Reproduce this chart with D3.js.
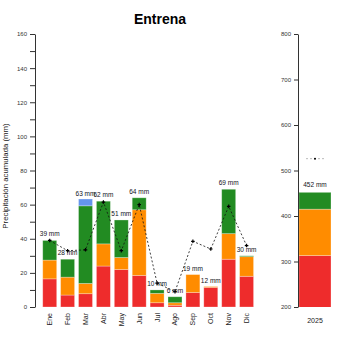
<!DOCTYPE html>
<html>
<head>
<meta charset="utf-8">
<script src="https://cdn.jsdelivr.net/npm/d3@7"></script>
<style>
  body { margin: 0; background: #fff; }
  svg { font-family: "Liberation Sans", Arial, sans-serif; }
</style>
</head>
<body>
<svg width="350" height="350"></svg>
<script>
// monthly data, stacked from bottom to top
const months = ['Ene','Feb','Mar','Abr','May','Jun','Jul','Ago','Sep','Oct','Nov','Dic'];
const red    = [16.5, 7, 7.8, 24, 22, 18.5, 2.5, 1, 8.5, 11.5, 28, 18];
const orange = [11, 10.5, 6, 13, 7, 38.5, 5.5, 1.5, 10.5, 0.5, 15, 11.5];
const green  = [11.5, 10.5, 45.5, 25, 22, 7, 2, 3.5, 0, 0, 26, 0.5];
const blue   = [0, 0, 4, 0, 0, 0, 0, 0, 0, 0, 0, 0];
const totals = [39, 28, 63, 62, 51, 64, 10, 6, 19, 12, 69, 30];
// climatological mean (dashed line)
const meanMonth = [39, 33, 33.5, 61.5, 33, 60, 14, 9, 38.5, 34, 59, 36];

// annual panel
const years = ['2025'];
const yearRed = [313], yearOrange = [102], yearGreen = [37];
const yearTotal = [452];
const yearMean = [526];

const colors = ['#ee2c2c', '#ff8c00', '#228b22', '#6495ed'];

const svg = d3.select('svg');

// title
svg.append('text')
  .attr('x', 160).attr('y', 24)
  .attr('text-anchor', 'middle')
  .style('font-size', '14px').style('font-weight', 'bold')
  .text('Entrena');

// ---------- monthly panel ----------
const x = d3.scaleBand().domain(months).range([38.8, 257.5]).paddingInner(0.22).paddingOuter(0.22);
const y = d3.scaleLinear().domain([0, 160]).range([307, 34]);

const rows = months.map((m, i) => ({ m: m, r: red[i], o: orange[i], g: green[i], b: blue[i] }));
const stack = d3.stack().keys(['r', 'o', 'g', 'b']);
const series = stack(rows);

const gm = svg.append('g');
gm.selectAll('g.layer')
  .data(series)
  .enter().append('g')
  .attr('class', 'layer')
  .attr('fill', (d, i) => colors[i])
  .selectAll('rect')
  .data(d => d)
  .enter().append('rect')
  .attr('x', d => x(d.data.m))
  .attr('width', x.bandwidth())
  .attr('y', d => y(d[1]))
  .attr('height', d => y(d[0]) - y(d[1]))
  .attr('stroke', 'rgba(255,255,255,0.35)')
  .attr('stroke-width', 0.8);

// dashed mean line
const line = d3.line()
  .x((d, i) => x(months[i]) + x.bandwidth() / 2)
  .y(d => y(d));
gm.append('path')
  .datum(meanMonth)
  .attr('d', line)
  .attr('fill', 'none')
  .attr('stroke', '#111')
  .attr('stroke-width', 0.8)
  .attr('stroke-dasharray', '2,2');
gm.selectAll('path.pt')
  .data(meanMonth)
  .enter().append('path')
  .attr('class', 'pt')
  .attr('d', d3.symbol().type(d3.symbolCross).size(7))
  .attr('transform', (d, i) => `translate(${x(months[i]) + x.bandwidth() / 2},${y(d)})`)
  .attr('fill', '#000');

// total labels
gm.selectAll('text.tot')
  .data(totals)
  .enter().append('text')
  .attr('class', 'tot')
  .attr('x', (d, i) => x(months[i]) + x.bandwidth() / 2)
  .attr('y', d => y(d) - 4)
  .attr('text-anchor', 'middle')
  .style('font-size', '6.5px')
  .style('fill', '#111122')
  .text(d => d + ' mm');

// left axis
const yAxis = d3.axisLeft(y)
  .tickValues(d3.range(0, 161, 10))
  .tickSize(5)
  .tickSizeOuter(0)
  .tickFormat(d => d % 20 === 0 ? d : '');
const ga = svg.append('g')
  .attr('transform', 'translate(35,0)')
  .call(yAxis);
ga.selectAll('text').style('font-size', '6px').style('fill', '#333');
ga.selectAll('line, path').attr('stroke', '#333');

// month labels
svg.selectAll('text.month')
  .data(months)
  .enter().append('text')
  .attr('class', 'month')
  .attr('transform', d => `translate(${x(d) + x.bandwidth() / 2 + 2.5},313) rotate(-90)`)
  .attr('text-anchor', 'end')
  .style('font-size', '7px')
  .style('fill', '#222')
  .text(d => d);

// y title
svg.append('text')
  .attr('transform', 'translate(8,176) rotate(-90)')
  .attr('text-anchor', 'middle')
  .style('font-size', '7.8px')
  .style('fill', '#222')
  .text('Precipitación acumulada (mm)');

// ---------- annual panel ----------
const x2 = d3.scaleBand().domain(years).range([299, 331]).padding(0);
const y2 = d3.scaleLinear().domain([200, 800]).range([307, 34]);

svg.append('clipPath').attr('id', 'clipY')
  .append('rect').attr('x', 290).attr('y', 34).attr('width', 60).attr('height', 273);

const yrows = years.map((yy, i) => ({ m: yy, r: yearRed[i], o: yearOrange[i], g: yearGreen[i] }));
const yseries = d3.stack().keys(['r', 'o', 'g'])(yrows);

const gy = svg.append('g').attr('clip-path', 'url(#clipY)');
gy.selectAll('g.layer')
  .data(yseries)
  .enter().append('g')
  .attr('fill', (d, i) => colors[i])
  .selectAll('rect')
  .data(d => d)
  .enter().append('rect')
  .attr('x', d => x2(d.data.m))
  .attr('width', x2.bandwidth())
  .attr('y', d => y2(d[1]))
  .attr('height', d => y2(d[0]) - y2(d[1]))
  .attr('stroke', 'rgba(255,255,255,0.35)')
  .attr('stroke-width', 0.8);

svg.selectAll('text.ytot')
  .data(yearTotal)
  .enter().append('text')
  .attr('x', (d, i) => x2(years[i]) + x2.bandwidth() / 2)
  .attr('y', d => y2(d) - 5)
  .attr('text-anchor', 'middle')
  .style('font-size', '6.5px')
  .style('fill', '#111122')
  .text(d => d + ' mm');

// annual mean marker
svg.selectAll('line.ymean')
  .data(yearMean)
  .enter().append('line')
  .attr('x1', (d, i) => x2(years[i]) + x2.bandwidth() / 2 - 9)
  .attr('x2', (d, i) => x2(years[i]) + x2.bandwidth() / 2 + 9)
  .attr('y1', d => y2(d)).attr('y2', d => y2(d))
  .attr('stroke', '#aaa')
  .attr('stroke-width', 0.8)
  .attr('stroke-dasharray', '2,2');
svg.selectAll('circle.ymean')
  .data(yearMean)
  .enter().append('circle')
  .attr('cx', (d, i) => x2(years[i]) + x2.bandwidth() / 2)
  .attr('cy', d => y2(d))
  .attr('r', 1)
  .attr('fill', '#000');

const yAxis2 = d3.axisLeft(y2)
  .tickValues(d3.range(200, 801, 100))
  .tickSize(4)
  .tickSizeOuter(0);
const ga2 = svg.append('g')
  .attr('transform', 'translate(298,0)')
  .call(yAxis2);
ga2.selectAll('text').style('font-size', '6px').style('fill', '#333');
ga2.selectAll('line, path').attr('stroke', '#333');

svg.selectAll('text.year')
  .data(years)
  .enter().append('text')
  .attr('x', d => x2(d) + x2.bandwidth() / 2)
  .attr('y', 323)
  .attr('text-anchor', 'middle')
  .style('font-size', '7px')
  .style('fill', '#222')
  .text(d => d);
</script>
</body>
</html>
